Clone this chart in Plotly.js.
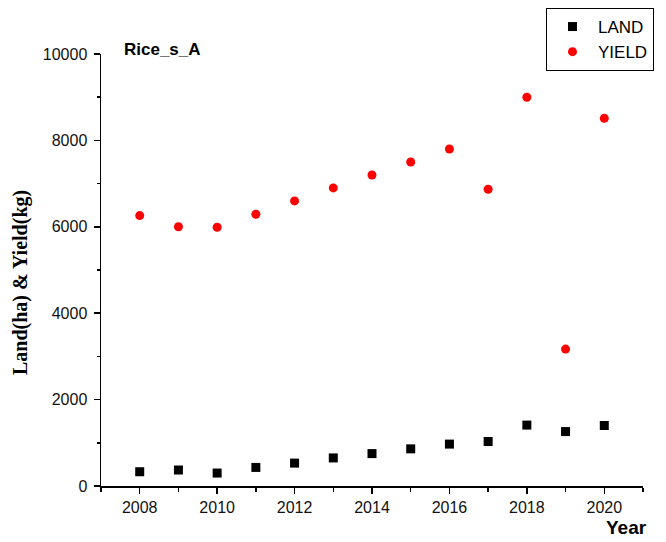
<!DOCTYPE html>
<html>
<head>
<meta charset="utf-8">
<script src="https://cdn.plot.ly/plotly-3.0.1.min.js"></script>
<style>html,body{margin:0;padding:0;background:#fff;}#chart{width:666px;height:542px;}</style>
</head>
<body>
<div id="chart"></div>
<script>
const years = [2008, 2009, 2010, 2011, 2012, 2013, 2014, 2015, 2016, 2017, 2018, 2019, 2020];
const land  = [330, 370, 300, 430, 530, 650, 750, 860, 970, 1030, 1410, 1260, 1400];
const yieldKg = [6260, 6000, 5990, 6290, 6600, 6900, 7200, 7500, 7800, 6870, 9000, 3170, 8510];
const seriesNames = ['LAND', 'YIELD'];
const chartLabel = 'Rice_s_A';
const xTitle = 'Year';
const yTitle = 'Land(ha) & Yield(kg)';

const traces = [
  {x: years, y: land, name: seriesNames[0], type: 'scatter', mode: 'markers',
   marker: {symbol: 'square', size: 9, color: '#000000'}},
  {x: years, y: yieldKg, name: seriesNames[1], type: 'scatter', mode: 'markers',
   marker: {symbol: 'circle', size: 9, color: '#ff0000'}}
];

const tickFont = {family: 'Arial, "Liberation Sans", sans-serif', size: 16, color: '#111111'};

const layout = {
  width: 666, height: 542,
  paper_bgcolor: '#ffffff', plot_bgcolor: '#ffffff',
  margin: {l: 101, r: 23, t: 54, b: 56, autoexpand: false},
  showlegend: true,
  legend: {x: 0.821, y: 1.1065, xanchor: 'left', yanchor: 'top', itemwidth: 41,
           bordercolor: '#000000', borderwidth: 1, bgcolor: '#ffffff',
           font: {family: 'Arial, "Liberation Sans", sans-serif', size: 17, color: '#000000'}},
  xaxis: {range: [2007, 2021], tick0: 2008, dtick: 2, showgrid: false, zeroline: false,
          showline: true, linecolor: '#000000', linewidth: 1.5,
          ticks: 'outside', ticklen: 6, tickwidth: 1.5, tickcolor: '#000000',
          minor: {ticks: 'outside', ticklen: 4, tickwidth: 1.5, tickcolor: '#000000', dtick: 1, tick0: 2007, showgrid: false},
          tickfont: tickFont, tickformat: 'd'},
  yaxis: {range: [0, 10000], tick0: 0, dtick: 2000, showgrid: false, zeroline: false,
          showline: true, linecolor: '#000000', linewidth: 1.5,
          ticks: 'outside', ticklen: 6, tickwidth: 1.5, tickcolor: '#000000',
          minor: {ticks: 'outside', ticklen: 3, tickwidth: 1.5, tickcolor: '#000000', dtick: 1000, tick0: 0, showgrid: false},
          tickfont: tickFont, tickformat: 'd', ticklabelstandoff: 3},
  annotations: [
    {text: '<b>' + chartLabel + '</b>', xref: 'paper', yref: 'paper', x: 0.0387, y: 1.0093,
     xanchor: 'left', yanchor: 'middle', showarrow: false,
     font: {family: 'Arial, "Liberation Sans", sans-serif', size: 17, color: '#000000'}},
    {text: '<b>' + xTitle + '</b>', xref: 'paper', yref: 'paper', x: 0.928, y: -0.0972,
     xanchor: 'left', yanchor: 'middle', showarrow: false,
     font: {family: 'Arial, "Liberation Sans", sans-serif', size: 19, color: '#000000'}},
    {text: '<b>' + yTitle + '</b>', xref: 'paper', yref: 'paper', x: -0.1494, y: 0.4699,
     xanchor: 'center', yanchor: 'middle', showarrow: false, textangle: -90,
     font: {family: '"Times New Roman", "Liberation Serif", serif', size: 20, color: '#000000'}}
  ]
};

Plotly.newPlot('chart', traces, layout, {displayModeBar: false, staticPlot: true});
</script>
</body>
</html>
